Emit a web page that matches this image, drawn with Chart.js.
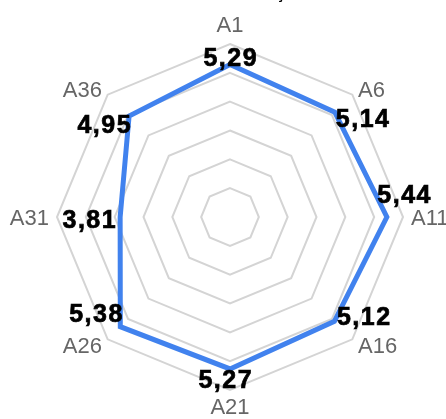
<!DOCTYPE html>
<html>
<head>
<meta charset="utf-8">
<script src="https://cdn.jsdelivr.net/npm/chart.js"></script>
<style>
  html, body { margin:0; padding:0; background:#fff; width:446px; height:419px; overflow:hidden; }
  #wrap { position:absolute; left:0; top:-20px; width:446px; height:439px; }
</style>
</head>
<body>
<div id="wrap"><canvas id="radar"></canvas></div>
<script>
// dados
const labels = ['A1', 'A6', 'A11', 'A16', 'A21', 'A26', 'A31', 'A36'];
const values = [5.29, 5.14, 5.44, 5.12, 5.27, 5.38, 3.81, 4.95];
const scaleMax = 6;
const titleText = 'Média das Avaliações';

// where each value label sits relative to its point (ink edge + baseline)
const valueLabelPos = [
  {align:'center', dx:0,    dy:1.5},
  {align:'left',   dx:1,    dy:14.5},
  {align:'left',   dx:-9.5, dy:-14},
  {align:'left',   dx:2.5,  dy:3.6},
  {align:'center', dx:-5,   dy:19},
  {align:'right',  dx:2,    dy:-4.7},
  {align:'right',  dx:-4.5, dy:11},
  {align:'right',  dx:1.5,  dy:17}
];

const FONT = '"Liberation Sans", Arial, sans-serif';
const SPACING = 1.5;

// axis names around the octagon
const axisLabels = {
  id: 'axisLabels',
  afterDraw(chart) {
    const scale = chart.scales.r;
    const ctx = chart.ctx;
    ctx.save();
    ctx.font = '22px ' + FONT;
    ctx.fillStyle = '#666';
    ctx.textBaseline = 'alphabetic';
    labels.forEach((lab, i) => {
      const p = scale.getPointPosition(i, scale.drawingArea + 8);
      const dx = p.x - scale.xCenter;
      let align = 'center';
      if (dx > 1) align = 'left';
      else if (dx < -1) align = 'right';
      ctx.textAlign = align;
      let y = p.y + 8;
      const dy = p.y - scale.yCenter;
      if (Math.abs(dx) <= 1) y = dy < 0 ? p.y - 4 : p.y + 16;
      ctx.fillText(lab, p.x, y);
    });
    ctx.restore();
  }
};

// value numbers next to each point
const valueLabels = {
  id: 'valueLabels',
  afterDatasetsDraw(chart) {
    const ctx = chart.ctx;
    const meta = chart.getDatasetMeta(0);
    ctx.save();
    ctx.font = 'bold 25px ' + FONT;
    ctx.fillStyle = '#000';
    ctx.strokeStyle = '#000';
    ctx.lineWidth = 0.7;
    ctx.textBaseline = 'alphabetic';
    ctx.textAlign = 'left';
    ctx.letterSpacing = SPACING + 'px';
    meta.data.forEach((pt, i) => {
      const txt = values[i].toFixed(2).replace('.', ',');
      const w = ctx.measureText(txt).width - SPACING;
      const o = valueLabelPos[i];
      let x = pt.x + o.dx;
      if (o.align === 'center') x -= w / 2;
      else if (o.align === 'right') x -= w;
      ctx.fillText(txt, x, pt.y + o.dy);
      ctx.strokeText(txt, x, pt.y + o.dy);
    });
    ctx.restore();
  }
};

new Chart(document.getElementById('radar'), {
  type: 'radar',
  data: {
    labels: labels,
    datasets: [{
      data: values,
      borderColor: '#4182ee',
      backgroundColor: 'rgba(0,0,0,0)',
      borderWidth: 5,
      fill: false,
      pointRadius: 0,
      pointHoverRadius: 0,
      tension: 0
    }]
  },
  options: {
    responsive: true,
    maintainAspectRatio: false,
    animation: false,
    layout: {padding: {left: 57, right: 43, top: 0, bottom: 29}},
    plugins: {
      legend: {display: false},
      tooltip: {enabled: false},
      title: {
        display: true,
        text: titleText,
        color: '#000',
        font: {family: FONT, size: 16, weight: 'bold'},
        padding: {top: 5.3, bottom: 39.5}
      }
    },
    scales: {
      r: {
        min: 0,
        max: scaleMax,
        ticks: {display: false, stepSize: 1},
        grid: {color: '#d4d4d4', lineWidth: 2},
        angleLines: {display: false},
        pointLabels: {display: false}
      }
    }
  },
  plugins: [valueLabels, axisLabels]
});
</script>
</body>
</html>
